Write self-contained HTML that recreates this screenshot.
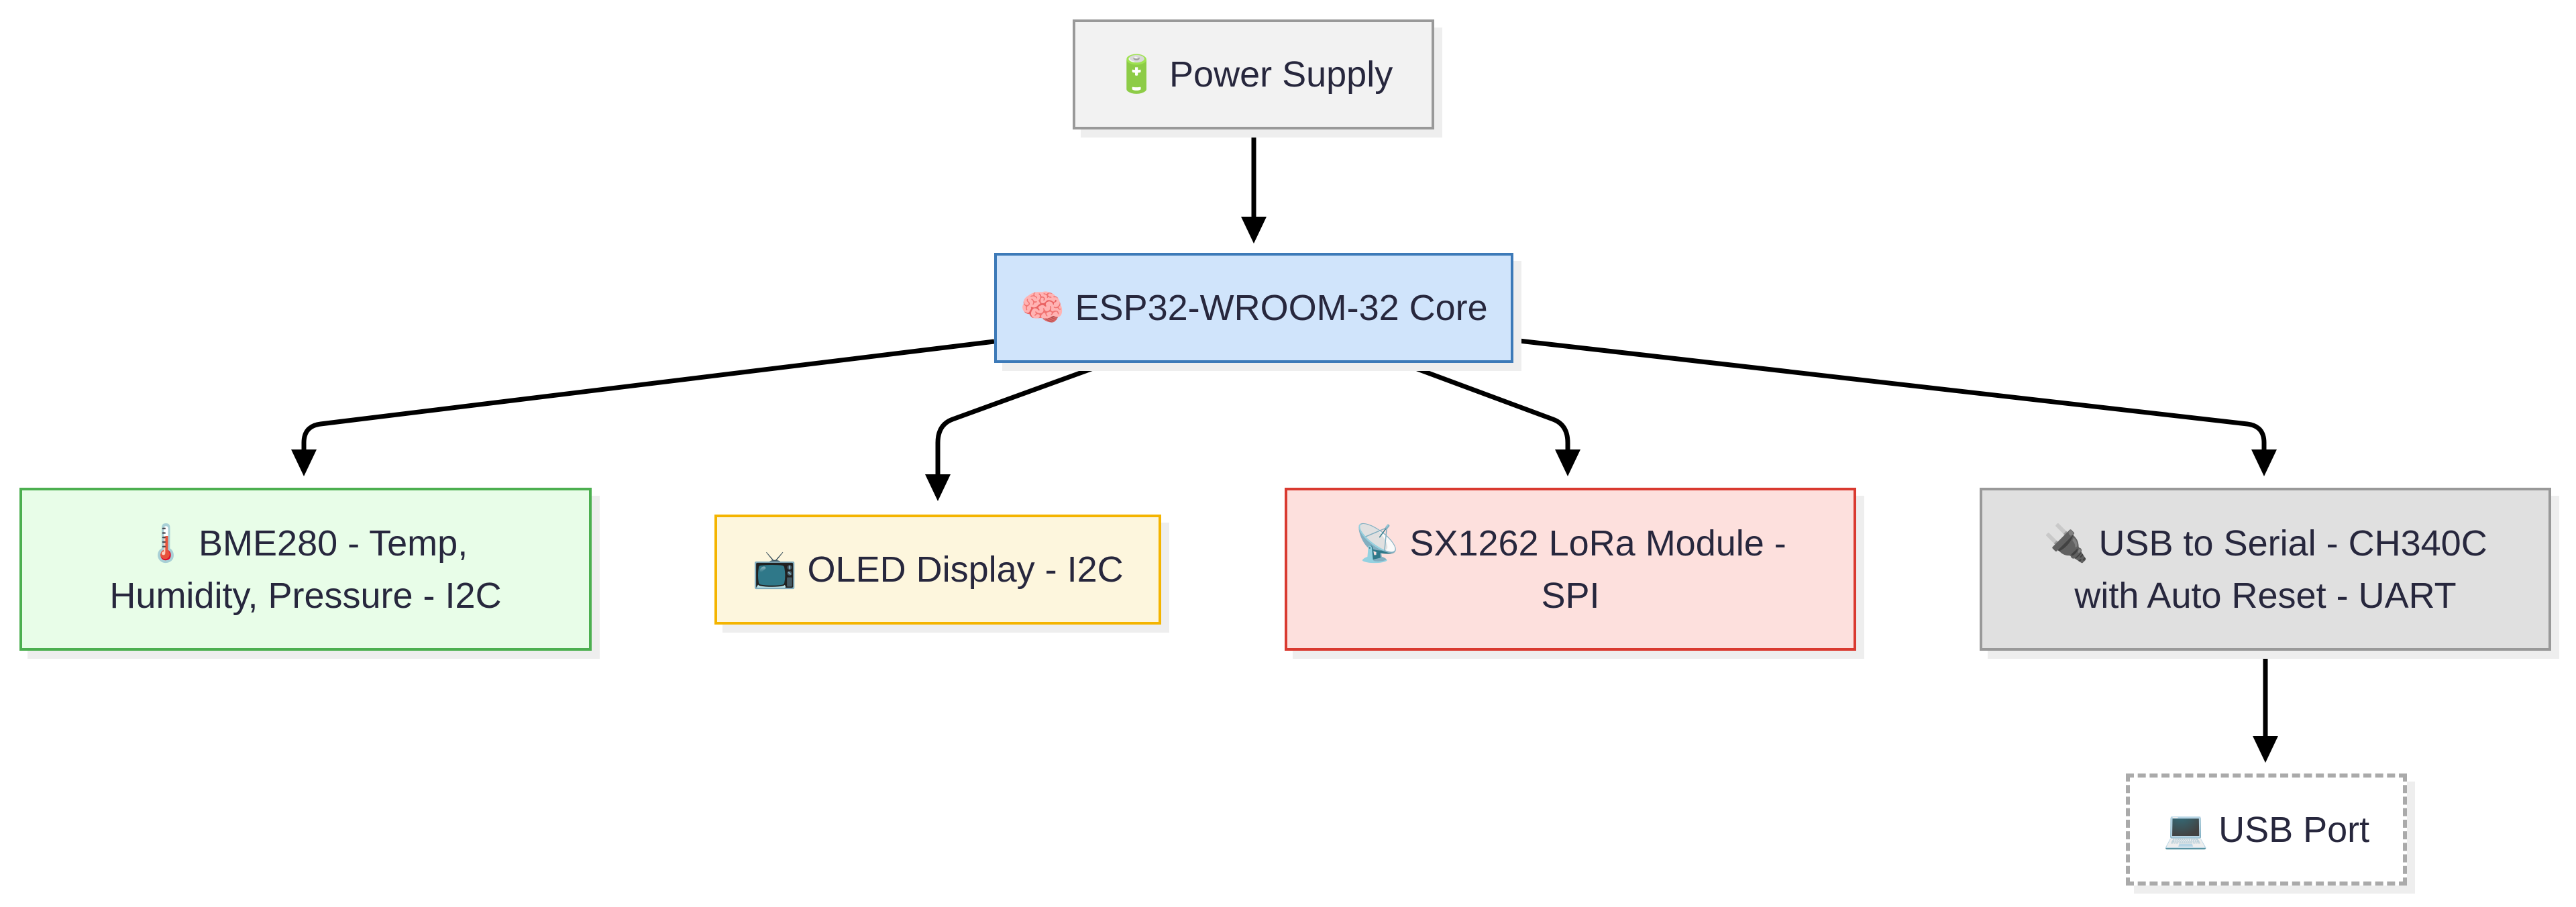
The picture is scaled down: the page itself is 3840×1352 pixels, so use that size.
<!DOCTYPE html>
<html><head><meta charset="utf-8"><style>
html,body{margin:0;padding:0;background:#fff;}
body{width:3840px;height:1352px;position:relative;overflow:hidden;font-family:"Liberation Sans","DejaVu Sans",sans-serif;}
.n{position:absolute;box-sizing:border-box;display:flex;align-items:center;justify-content:center;text-align:center;color:#27273d;font-size:54px;line-height:78px;border:4px solid;box-shadow:12px 12px 0 #eeeeee;}
svg{position:absolute;left:0;top:0;}
</style></head><body>
<svg width="3840" height="1352">
<g fill="none" stroke="#000" stroke-width="7">
<path d="M1869 193 L1869 330"/>
<path d="M1482 509 L478 632 Q453 635 453 660 L453 680"/>
<path d="M1646 543 L1420 625 Q1398 633 1398 660 L1398 715"/>
<path d="M2094 543 L2315 625 Q2337 633 2337 660 L2337 680"/>
<path d="M2256 507 L3350 632 Q3375 635 3375 660 L3375 680"/>
<path d="M3377 970 L3377 1105"/>
</g>
<g fill="#000">
<polygon points="1850,323 1888,323 1869,363"/>
<polygon points="434,670 472,670 453,710"/>
<polygon points="1379,707 1417,707 1398,747"/>
<polygon points="2318,670 2356,670 2337,710"/>
<polygon points="3356,670 3394,670 3375,710"/>
<polygon points="3358,1097 3396,1097 3377,1137"/>
</g>
</svg>
<div class="n" style="left:1599px;top:29px;width:539px;height:164px;background:#f2f2f2;border-color:#999;">🔋 Power Supply</div>
<div class="n" style="left:1482px;top:377px;width:774px;height:164px;background:#d0e4fb;border-color:#3d7ab8;">🧠 ESP32-WROOM-32 Core</div>
<div class="n" style="left:29px;top:727px;width:853px;height:243px;background:#e8fde8;border-color:#4caf50;">🌡️ BME280 - Temp,<br>Humidity, Pressure - I2C</div>
<div class="n" style="left:1065px;top:767px;width:666px;height:164px;background:#fdf6dd;border-color:#f4b400;">📺 OLED Display - I2C</div>
<div class="n" style="left:1915px;top:727px;width:852px;height:243px;background:#fde0dd;border-color:#d93a30;">📡 SX1262 LoRa Module -<br>SPI</div>
<div class="n" style="left:2951px;top:727px;width:852px;height:243px;background:#e0e0e0;border-color:#999;">🔌 USB to Serial - CH340C<br>with Auto Reset - UART</div>
<div class="n" style="left:3169px;top:1153px;width:419px;height:167px;background:#fff;border:6px dashed #aaa;">💻 USB Port</div>
</body></html>
